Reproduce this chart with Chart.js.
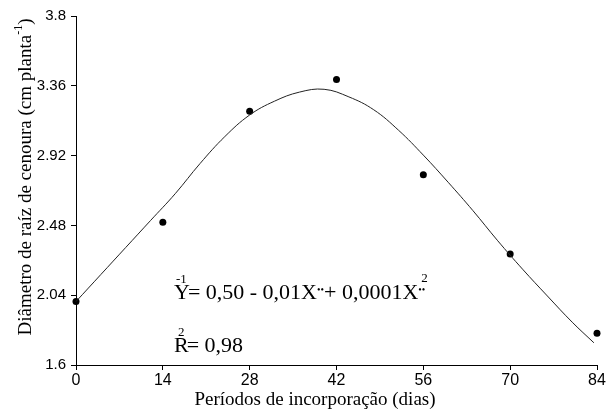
<!DOCTYPE html>
<html><head><meta charset="utf-8">
<script src="https://cdn.jsdelivr.net/npm/chart.js@4"></script>
<style>html,body{margin:0;padding:0;background:#fff}#wrap{width:609px;height:412px}</style>
</head><body><div id="wrap"><canvas id="c" width="609" height="412"></canvas></div>
<script>
// Observed data (days after incorporation, root diameter)
const days = [0, 14, 28, 42, 56, 70, 84];
const diameter = [2.0, 2.5, 3.2, 3.4, 2.8, 2.3, 1.8];
// Fitted curve
const curveDays = [0, 4, 8, 12, 16, 20, 24, 28, 32, 36, 40, 44, 48, 52, 56, 60, 64, 68, 72, 76, 80, 83.5];
const curveValues = [2.00, 2.17, 2.34, 2.51, 2.68, 2.87, 3.04, 3.176, 3.263, 3.32, 3.338, 3.29, 3.209, 3.08, 2.923, 2.752, 2.573, 2.383, 2.204, 2.035, 1.87, 1.74];
// Tick labels
const xTicks = [0, 14, 28, 42, 56, 70, 84];
const yTicks = [1.6, 2.04, 2.48, 2.92, 3.36, 3.8];
const yTickLabels = ['1.6', '2.04', '2.48', '2.92', '3.36', '3.8'];
// Texts
const xTitle = 'Períodos de incorporação (dias)';
const yTitleMain = 'Diâmetro de raíz de cenoura (cm planta';
const yTitleSup = '-1';
const yTitleEnd = ')';

const SERIF = '"Liberation Serif", "Times New Roman", serif';
const NARROW = '"Liberation Sans Narrow", "Arial Narrow", "Liberation Sans", Arial, sans-serif';

function drawParts(ctx, x, y, parts) {
  let cx = x;
  for (const p of parts) {
    ctx.font = p.f;
    const w = ctx.measureText(p.t).width;
    ctx.fillText(p.t, cx + (p.dx || 0), y + (p.dy || 0));
    if (!p.noAdv) cx += w + (p.dx || 0);
  }
  return cx - x;
}
function measureParts(ctx, parts) {
  let w = 0;
  for (const p of parts) { ctx.font = p.f; if (!p.noAdv) w += ctx.measureText(p.t).width + (p.dx || 0); }
  return w;
}

const annot = {
  id: 'annot',
  afterDraw(chart) {
    const ctx = chart.ctx;
    ctx.save();
    ctx.fillStyle = '#000';
    ctx.textAlign = 'left';
    ctx.textBaseline = 'alphabetic';
    // x title
    ctx.font = '19px ' + SERIF;
    const xw = ctx.measureText(xTitle).width;
    ctx.fillText(xTitle, 315 - xw / 2, 405);
    // y title (rotated)
    const yparts = [
      { t: yTitleMain, f: '19px ' + SERIF },
      { t: yTitleSup, f: '12px ' + SERIF, dy: -9 },
      { t: yTitleEnd, f: '19px ' + SERIF }
    ];
    const yw = measureParts(ctx, yparts);
    ctx.save();
    ctx.translate(31, 177 + yw / 2);
    ctx.rotate(-Math.PI / 2);
    drawParts(ctx, 0, 0, yparts);
    ctx.restore();
    // equation
    const fs = '22px ' + SERIF, fsm = '13px ' + SERIF, fdot = '10px ' + SERIF;
    const ex = chart.scales.x.getPixelForValue(15.8);
    const ey = 299;
    drawParts(ctx, ex, ey, [
      { t: '-1', f: fsm, dy: -16, dx: 2, noAdv: true },
      { t: 'Y', f: fs },
      { t: '= 0,50 - 0,01X', f: fs, dx: -2 },
      { t: '\u2022\u2022', f: fdot, dy: -6 },
      { t: '+ 0,0001X', f: fs },
      { t: '2', f: fsm, dy: -17, dx: 3, noAdv: true },
      { t: '\u2022\u2022', f: fdot, dy: -6 }
    ]);
    const ry = 352;
    drawParts(ctx, ex, ry, [
      { t: '2', f: fsm, dy: -16, dx: 4, noAdv: true },
      { t: 'R', f: fs },
      { t: '= 0,98', f: fs, dx: -2 }
    ]);
    ctx.restore();
  }
};

new Chart(document.getElementById('c').getContext('2d'), {
  type: 'scatter',
  data: {
    datasets: [
      {
        type: 'line',
        data: curveDays.map((d, i) => ({ x: d, y: curveValues[i] })),
        borderColor: '#222', borderWidth: 1, pointRadius: 0,
        tension: 0.4, fill: false, clip: false
      },
      {
        data: days.map((d, i) => ({ x: d, y: diameter[i] })),
        backgroundColor: '#000', borderColor: '#000', pointRadius: 3.5, borderWidth: 0, clip: false
      }
    ]
  },
  options: {
    responsive: false, animation: false, devicePixelRatio: 1,
    layout: { padding: { top: 16, right: 12, left: 0, bottom: 0 } },
    plugins: { legend: { display: false }, tooltip: { enabled: false } },
    scales: {
      x: {
        type: 'linear', min: 0, max: 84,
        afterBuildTicks: s => { s.ticks = xTicks.map(v => ({ value: v })); },
        afterFit: s => { s.height = 47; },
        grid: { drawOnChartArea: false, drawTicks: true, tickLength: 5, color: '#000' },
        border: { color: '#000', width: 1 },
        ticks: { color: '#000', font: { family: NARROW, size: 16 }, padding: 1, maxRotation: 0, autoSkip: false, callback: v => String(v) }
      },
      y: {
        type: 'linear', min: 1.6, max: 3.8,
        afterBuildTicks: s => { s.ticks = yTicks.map(v => ({ value: v })); },
        afterFit: s => { s.width = 76; },
        grid: { drawOnChartArea: false, drawTicks: true, tickLength: 5, color: '#000' },
        border: { color: '#000', width: 1 },
        ticks: { color: '#000', font: { family: NARROW, size: 15 }, padding: 5, autoSkip: false, callback: (v) => yTickLabels[yTicks.indexOf(v)] ?? String(v) }
      }
    }
  },
  plugins: [annot]
});
</script>
</body></html>
